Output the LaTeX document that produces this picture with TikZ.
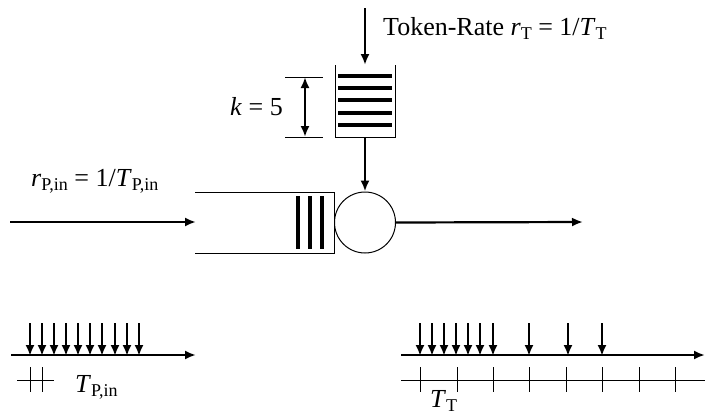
\documentclass[tikz,border=0pt]{standalone}
\usepackage{fontspec}
\setmainfont{Liberation Serif}
\usetikzlibrary{arrows.meta}
\newcommand\sbs[1]{\raisebox{-0.18em}{\fontsize{18}{18}\selectfont #1}}
\newcommand\sbsflat[1]{\raisebox{-0.18em}[0pt][0pt]{\fontsize{18}{18}\selectfont #1}}
\tikzset{
  thickarrow/.style={line width=2.2pt,-{Latex[length=11pt,width=9pt]}},
  dimarrow/.style={line width=2.2pt,{Latex[length=11pt,width=9pt]}-{Latex[length=11pt,width=9pt]}},
  thinline/.style={line width=1pt},
  bar/.style={line width=4.2pt},
  lbl/.style={inner sep=0pt,font=\fontsize{26}{30}\selectfont},
  tick/.style={line width=1pt}
}
\begin{document}
\begin{tikzpicture}[x=1pt,y=-1pt]
\useasboundingbox (0,0) rectangle (705,416);
% token input
\coordinate (tok) at (365,8);
\coordinate (bucktop) at (365,65);
\coordinate (buckbot) at (365,137);
\draw[thickarrow] (tok) -- (bucktop);
\node[lbl,anchor=base west] (toklbl) at (383,35) {Token-Rate \textit{r}\sbs{T} = 1/\textit{T}\sbs{T}};
% bucket
\draw[thinline] (335,65) -- (335,137) -- (395,137) -- (395,65);
\foreach \y in {76,88,100,113,125} \draw[bar] (338,\y) -- (392,\y);
% dimension
\coordinate (dimtop) at (305,77);
\coordinate (dimbot) at (305,137);
\draw[thinline] (285,77) -- (323,77);
\draw[thinline] (285,137) -- (323,137);
\draw[dimarrow] (dimtop) -- (dimbot);
\node[lbl,anchor=base east] (klbl) at (283,115) {\textit{k} = 5};
% server
\node[circle,draw,line width=1pt,minimum size=61pt,inner sep=0pt] (srv) at (365,222.5) {};
\draw[thickarrow] (buckbot) -- (srv.north);
% queue
\draw[thinline] (195,192) -- (334.5,192) -- (334.5,253) -- (195,253);
\foreach \x in {298,310,322} \draw[bar] (\x,196) -- (\x,249);
\coordinate (inl) at (10,222);
\coordinate (qin) at (196,222);
\coordinate (outr) at (583,222);
\draw[thickarrow] (inl) -- (qin);
\draw[thickarrow] (srv.east) -- (outr);
\node[lbl,anchor=base west] (rlbl) at (31,186) {\textit{r}\sbs{P,in} = 1/\textit{T}\sbs{P,in}};
% bottom left timeline
\coordinate (tl0) at (11,355);
\coordinate (tl1) at (196,355);
\draw[thickarrow] (tl0) -- (tl1);
\foreach \x in {30,42,54,66,78,90,102,115,127,139}
  \draw[thickarrow] (\x,323) -- (\x,356);
\draw[tick] (17,380) -- (54,380);
\draw[tick] (30,367) -- (30,392);
\draw[tick] (42,367) -- (42,392);
\node[lbl,anchor=base west] (tplbl) at (75,392) {\textit{T}\sbs{P,in}};
% bottom right timeline
\coordinate (tr0) at (401,355);
\coordinate (tr1) at (705,355);
\draw[thickarrow] (tr0) -- (tr1);
\foreach \x in {420,457,493,529,566,602,639,675}
  \draw[tick] (\x,367) -- (\x,392);
\foreach \x in {420,432,444,456,468,480,493,529,568,602}
  \draw[thickarrow] (\x,323) -- (\x,356);
\draw[tick] (401,380) -- (705,380);
\node[lbl,anchor=base west] (ttlbl) at (430,407) {\textit{T}\sbsflat{T}};
\end{tikzpicture}
\end{document}
